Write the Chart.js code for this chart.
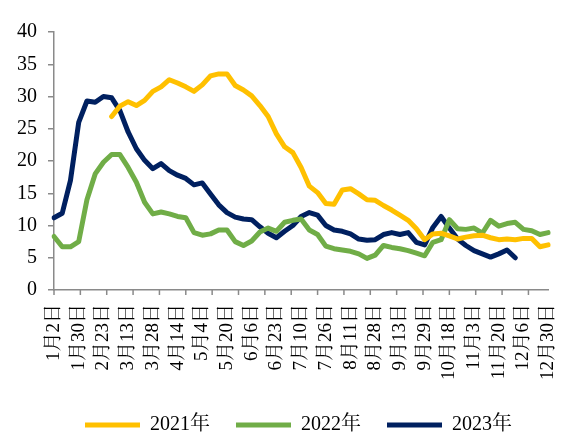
<!DOCTYPE html>
<html>
<head>
<meta charset="utf-8">
<script src="https://cdn.jsdelivr.net/npm/chart.js@4.4.0/dist/chart.umd.min.js"></script>
<style>
  html, body { margin: 0; padding: 0; background: #fff; }
</style>
</head>
<body>
<canvas id="chart" width="577" height="434"></canvas>
<script>
const dateLabels = ['1月2日', '1月30日', '2月23日', '3月13日', '3月28日', '4月14日', '5月4日',
    '5月20日', '6月6日', '6月23日', '7月10日', '7月26日', '8月11日', '8月28日', '9月13日',
    '9月29日', '10月18日', '11月3日', '11月20日', '12月6日', '12月30日'];
const labelEvery = 3;
const tickStep = 3.2;

const seriesNames = ['2021年', '2022年', '2023年'];

const values2021 = [null, null, null, null, null, null, null,
    26.9, 28.5, 29.2, 28.6, 29.4, 30.8, 31.5, 32.6, 32.1, 31.5,
    30.8, 31.8, 33.2, 33.5, 33.5, 31.7, 31.0, 30.1, 28.6, 26.9,
    24.2, 22.2, 21.3, 19.0, 16.1, 15.1, 13.4, 13.3, 15.5, 15.7,
    14.9, 14.0, 13.9, 13.1, 12.4, 11.6, 10.8, 9.5, 7.8, 8.7,
    8.8, 8.4, 7.9, 8.2, 8.4, 8.5, 8.1, 7.8, 7.9, 7.8,
    8.0, 8.0, 6.7, 7.0];

const values2022 = [8.3, 6.7, 6.7, 7.5, 14.0, 18.0, 19.8, 21.0, 21.0, 19.0,
    16.7, 13.6, 11.8, 12.1, 11.8, 11.4, 11.2, 8.9, 8.5, 8.7,
    9.3, 9.3, 7.5, 6.9, 7.6, 9.0, 9.6, 9.1, 10.5, 10.8,
    11.0, 9.3, 8.6, 6.8, 6.4, 6.2, 6.0, 5.6, 4.9, 5.4,
    6.9, 6.6, 6.4, 6.1, 5.7, 5.3, 7.4, 7.8, 10.9, 9.5,
    9.4, 9.6, 8.8, 10.8, 9.9, 10.3, 10.5, 9.4, 9.2, 8.6,
    8.9];

const values2023 = [11.2, 11.9, 17.0, 26.0, 29.3, 29.1, 30.0, 29.8, 27.8, 24.5,
    21.9, 20.1, 18.8, 19.6, 18.5, 17.8, 17.3, 16.3, 16.6, 14.9,
    13.2, 12.0, 11.3, 11.0, 10.9, 9.8, 8.8, 8.1, 9.1, 10.0,
    11.4, 12.0, 11.6, 10.0, 9.3, 9.1, 8.7, 7.9, 7.7, 7.8,
    8.6, 8.9, 8.6, 8.9, 7.4, 7.0, 9.7, 11.4, 9.6, 7.9,
    6.9, 6.1, 5.6, 5.1, 5.6, 6.2, 5.0, null, null, null,
    null];

const colors = ['#FFC000', '#70AD47', '#002060'];
const axisColor = '#8a8a8a';

const pointLabels = values2022.map((v, i) => i % labelEvery === 0 ? dateLabels[i / labelEvery] : '');

Chart.defaults.font.family = "'Times New Roman', 'Liberation Serif', 'Noto Serif CJK SC', 'Noto Sans CJK SC', serif";
Chart.defaults.font.size = 20;
Chart.defaults.color = '#000';

// small tick marks under the x axis, on their own spacing
const xTickMarks = {
    id: 'xTickMarks',
    afterDraw(chart) {
        const scale = chart.scales.x;
        const ctx = chart.ctx;
        const y0 = chart.chartArea.bottom;
        const last = values2022.length - 1;

        ctx.save();
        ctx.strokeStyle = axisColor;
        ctx.lineWidth = 1.5;
        for (let k = 0; k * tickStep <= last; k++) {
            let px = scale.getPixelForValue(k * tickStep);
            ctx.beginPath();
            ctx.moveTo(px, y0);
            ctx.lineTo(px, y0 + 5);
            ctx.stroke();
        }
        ctx.restore();
    }
};

// legend sits a bit right of the canvas centre in the original
const legendShift = {
    id: 'legendShift',
    afterLayout(chart) {
        chart.legend.left += 15;
        chart.legend.right += 15;
    }
};

const allValues = [values2021, values2022, values2023];

new Chart('chart', {
    type: 'line',
    data: {
        labels: pointLabels,
        datasets: allValues.map((vals, i) => ({
            label: seriesNames[i],
            data: vals,
            borderColor: colors[i],
            backgroundColor: colors[i],
            borderWidth: 5,
            borderCapStyle: 'round',
            borderJoinStyle: 'round',
            pointRadius: 0,
            tension: 0,
            spanGaps: false
        }))
    },
    options: {
        responsive: false,
        animation: false,
        events: [],
        layout: {
            padding: {top: 32, right: 16, bottom: -11, left: 6}
        },
        plugins: {
            tooltip: {enabled: false},
            legend: {
                position: 'bottom',
                labels: {
                    usePointStyle: true,
                    pointStyle: 'line',
                    pointStyleWidth: 55,
                    padding: 26,
                    font: {size: 20}
                }
            }
        },
        scales: {
            x: {
                grid: {display: false},
                border: {display: true, color: axisColor, width: 1.5},
                ticks: {
                    autoSkip: false,
                    maxRotation: 90,
                    minRotation: 90,
                    padding: 6,
                    font: {size: 19},
                    callback: (val, idx) => pointLabels[idx] || null
                },
                afterFit: scale => { scale.height = 99; }
            },
            y: {
                min: 0,
                max: 40,
                grid: {drawOnChartArea: false, drawTicks: true, tickLength: 6, color: axisColor, lineWidth: 1.5},
                border: {display: true, color: axisColor, width: 1.5},
                ticks: {stepSize: 5, padding: 11, autoSkip: false, font: {size: 20}}
            }
        }
    },
    plugins: [xTickMarks, legendShift]
});
</script>
</body>
</html>
